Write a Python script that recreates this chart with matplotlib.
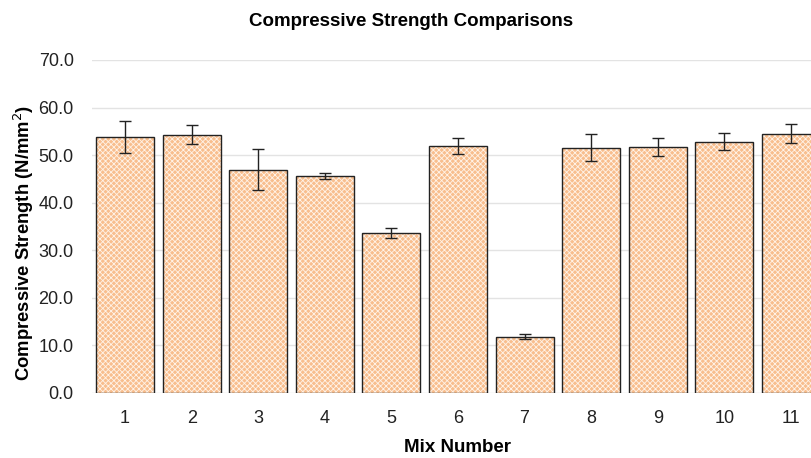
import numpy as np
import matplotlib
matplotlib.use("Agg")
import matplotlib.pyplot as plt

plt.rcParams['font.family'] = ['Liberation Sans', 'DejaVu Sans']
plt.rcParams['hatch.linewidth'] = 0.6

mixes = [1, 2, 3, 4, 5, 6, 7, 8, 9, 10, 11]
strength = [53.8, 54.3, 46.9, 45.6, 33.6, 51.9, 11.8, 51.6, 51.8, 52.8, 54.5]
err = [3.4, 2.0, 4.3, 0.7, 1.0, 1.7, 0.5, 2.8, 1.9, 1.8, 2.0]
yticks = [0, 10, 20, 30, 40, 50, 60, 70]

fig = plt.figure(figsize=(8.12, 4.58), dpi=100)
ax = fig.add_axes([0.113, 0.142, 0.902, 0.727])

x = np.array(mixes)
ax.bar(x, strength, width=0.87, color='#F8BE8E', edgecolor='#FFF3E8', hatch='xxxxxx', lw=0, zorder=2)
ax.bar(x, strength, width=0.87, facecolor='none', edgecolor='#222222', lw=1.0, zorder=3)
ax.errorbar(x, strength, yerr=err, fmt='none', ecolor='#222222', elinewidth=1.0,
            capsize=4.5, capthick=1.0, zorder=4)

ax.set_xlim(0.5, 11.5)
ax.set_ylim(0, 70)
ax.set_yticks(yticks)
ax.set_yticklabels([f"{v:.1f}" for v in yticks])
ax.set_xticks(mixes)
ax.tick_params(axis='both', length=0, labelsize=13, colors='#222222')
ax.tick_params(axis='y', pad=13)
ax.tick_params(axis='x', pad=12)
ax.grid(axis='y', color='#e3e3e3', lw=1.0, zorder=0)
ax.set_axisbelow(True)
for s in ax.spines.values():
    s.set_visible(False)

ax.set_ylabel('Compressive Strength (N/mm$^2$)', fontsize=13.3, fontweight='bold')
ax.yaxis.set_label_coords(-0.076, 0.45)
ax.set_xlabel('Mix Number', fontsize=13.5, fontweight='bold', labelpad=9)
fig.text(0.506, 0.953, 'Compressive Strength Comparisons', ha='center', va='center',
         fontsize=13.5, fontweight='bold')

fig.savefig('out.png', dpi=100)
